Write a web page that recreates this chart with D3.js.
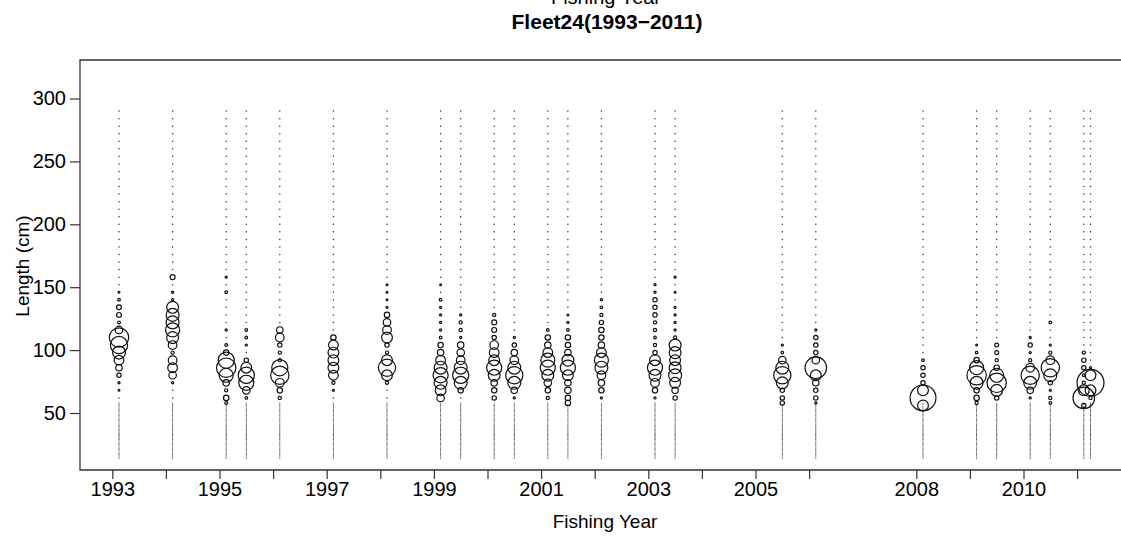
<!DOCTYPE html>
<html>
<head>
  <meta charset="utf-8">
  <title>Fleet24 length composition</title>
  <script src="https://d3js.org/d3.v7.min.js"></script>
  <style>
    body { margin: 0; background: #fff; }
    text { font-family: "Liberation Sans", Arial, sans-serif; fill: #000; }
  </style>
</head>
<body>
  <script>
    var width = 1121;
    var height = 540;

    // length bins (cm): coarse upper bins and fine lower bins
    var lengthBins = [290, 284, 278, 272, 266, 260, 254, 248, 242, 236, 230, 224, 218, 212, 206, 200,
      194, 188, 182, 176, 170, 164, 158, 152, 146, 140, 134, 128, 122, 116, 110, 104, 98, 92, 86, 80, 74, 68, 62];
    var smallBins = [58, 57, 56, 55, 54, 53, 52, 51, 50, 49, 48, 47, 46, 45, 44, 43, 42, 41, 40, 39, 38, 37,
      36, 35, 34, 33, 32, 31, 30, 29, 28, 27, 26, 25, 24, 23, 22, 21, 20, 19, 18, 17, 16, 15, 14];

    // sample times (fishing year + season)
    var sampleTimes = [1993.125, 1994.125, 1995.125, 1995.5, 1996.125, 1997.125, 1998.125, 1999.125, 1999.5,
      2000.125, 2000.5, 2001.125, 2001.5, 2002.125, 2003.125, 2003.5, 2005.5, 2006.125, 2008.125,
      2009.125, 2009.5, 2010.125, 2010.5, 2011.125, 2011.25];

    // non-zero proportions per sample: [length, value]
    var comps = [
      [[146,0.2],[140,0.9],[134,2.9],[128,2.9],[122,1.0],[116,7.2],[110,47.9],[104,37.9],[98,21.3],[92,12],[86,5.3],[80,2.4],[74,0.6],[68,0.3]],
      [[158,3.1],[146,0.6],[140,0.6],[134,17.9],[128,21.3],[122,21.3],[116,25],[110,17.9],[104,9.5],[98,1.3],[92,9.5],[86,12],[80,7.2],[74,0.6]],
      [[158,0.6],[146,0.9],[116,0.6],[104,1.0],[98,3.7],[92,33.3],[86,47.9],[80,25],[74,5.3],[68,1.3],[62,3.7],[58,1.0]],
      [[116,0.9],[110,0.9],[104,0.6],[92,2.4],[86,14.8],[80,33.3],[74,29],[68,7.2],[62,0.9]],
      [[116,5.3],[110,9.5],[104,2.4],[98,1.3],[92,1.3],[86,33.3],[80,42.8],[74,9.5],[68,3.7],[62,1.3]],
      [[110,3.7],[104,12],[98,14.8],[92,14.8],[86,14.8],[80,12],[74,1.3],[68,0.6]],
      [[152,0.4],[146,0.4],[140,0.4],[134,0.6],[128,3.7],[122,7.2],[116,9.5],[110,14.8],[104,2.4],[98,1.3],[92,14.8],[86,37.9],[80,14.8],[74,1.3]],
      [[152,0.4],[140,0.9],[134,0.6],[128,0.6],[122,0.6],[116,0.6],[110,0.9],[104,3.7],[98,5.3],[92,12],[86,21.3],[80,29],[74,21.3],[68,14.8],[62,7.2]],
      [[128,0.6],[122,1.3],[116,1.3],[110,0.6],[104,5.3],[98,7.2],[92,9.5],[86,21.3],[80,33.3],[74,21.3],[68,3.7]],
      [[128,1.3],[122,3.1],[116,3.1],[110,2.4],[104,9.5],[98,12],[92,14.8],[86,29],[80,17.9],[74,5.3],[68,3.7],[62,2.4]],
      [[110,0.6],[104,2.4],[98,5.3],[92,9.5],[86,21.3],[80,37.9],[74,21.3],[68,5.3],[62,0.6]],
      [[116,0.9],[110,3.7],[104,5.3],[98,12],[92,25],[86,29],[80,17.9],[74,7.2],[68,3.7],[62,1.3]],
      [[128,0.4],[122,0.6],[116,0.9],[110,3.7],[104,3.7],[98,5.3],[92,17.9],[86,29],[80,14.8],[74,5.3],[68,5.3],[62,3.7],[58,3.7]],
      [[140,0.6],[134,0.9],[128,1.3],[122,2.4],[116,3.7],[110,3.7],[104,5.3],[98,12],[92,25],[86,21.3],[80,9.5],[74,5.3],[68,3.7],[62,0.6]],
      [[152,0.6],[146,0.6],[140,2.4],[134,2.4],[128,2.4],[122,1.3],[116,1.3],[110,0.9],[104,1.3],[98,2.4],[92,14.8],[86,29],[80,17.9],[74,9.5],[68,3.7],[62,0.6]],
      [[158,0.6],[146,0.4],[134,0.6],[128,0.6],[122,0.6],[116,0.6],[110,1.3],[104,17.9],[98,17.9],[92,14.8],[86,17.9],[80,21.3],[74,14.8],[68,5.3],[62,2.4]],
      [[104,0.6],[98,0.9],[92,7.2],[86,21.3],[80,37.9],[74,17.9],[68,2.4],[62,2.4],[58,2.4]],
      [[116,0.6],[110,2.4],[104,2.4],[98,2.4],[92,7.2],[86,59.2],[80,14.8],[74,5.3],[68,2.4],[62,2.4],[58,0.6]],
      [[92,0.9],[86,2.4],[80,2.4],[74,2.4],[68,14.8],[62,85.2],[56,14.8]],
      [[104,0.4],[98,0.9],[92,3.7],[86,25],[80,47.9],[74,21.3],[68,3.7],[62,3.7],[58,1.3]],
      [[104,1.9],[98,1.9],[92,1.3],[86,3.7],[80,25],[74,47.9],[68,17.9],[62,2.4]],
      [[110,0.6],[104,2.4],[98,0.6],[92,1.3],[86,9.5],[80,42.8],[74,21.3],[68,5.3],[62,0.6]],
      [[122,0.9],[104,0.6],[98,1.3],[92,9.5],[86,42.8],[80,21.3],[74,2.4],[68,0.6],[62,1.3],[58,0.9]],
      [[98,1.3],[92,2.4],[86,2.4],[80,0.9],[74,1.3],[68,14.8],[62,59.2],[56,2.4]],
      [[86,0.6],[80,14.8],[74,92.5],[68,14.8],[62,1.3]]
    ];

    var tickYears = [1993, 1994, 1995, 1996, 1997, 1998, 1999, 2000, 2001, 2002, 2003, 2004, 2005, 2006,
      2008, 2009, 2010, 2011];
    var labelYears = [1993, 1995, 1997, 1999, 2001, 2003, 2005, 2008, 2010];
    var lengthTicks = [50, 100, 150, 200, 250, 300];

    var plotLeft = 80, plotTop = 60, plotBottom = 470, plotRight = 1130;

    var svg = d3.select("body").append("svg").attr("width", width).attr("height", height);

    var x = d3.scaleLinear().domain([1993, 2011]).range([112.3, 1077.1]);
    var y = d3.scaleLinear().domain([50, 300]).range([413, 98.5]);
    var r = d3.scaleSqrt().domain([0, 100]).range([0, 14]);

    // box (right side falls outside the picture)
    svg.append("path")
      .attr("d", "M" + plotRight + "," + plotTop + "H" + plotLeft + "V" + plotBottom + "H" + plotRight)
      .attr("fill", "none").attr("stroke", "#333").attr("stroke-width", 1.3);

    var xAxis = d3.axisBottom(x)
      .tickValues(tickYears)
      .tickSize(9)
      .tickPadding(3)
      .tickFormat(function (d) { return labelYears.indexOf(d) >= 0 ? d : ""; });

    var gX = svg.append("g").attr("transform", "translate(0," + plotBottom + ")").call(xAxis);
    gX.select(".domain").remove();
    gX.selectAll("line").attr("stroke", "#333").attr("stroke-width", 1.2);
    gX.selectAll("text").attr("font-size", 20).attr("fill", "#000")
      .style("font-family", "'Liberation Sans', Arial, sans-serif");

    var yAxis = d3.axisLeft(y).tickValues(lengthTicks).tickSize(10).tickPadding(4);
    var gY = svg.append("g").attr("transform", "translate(" + plotLeft + ",0)").call(yAxis);
    gY.select(".domain").remove();
    gY.selectAll("line").attr("stroke", "#333").attr("stroke-width", 1.2);
    gY.selectAll("text").attr("font-size", 20).attr("fill", "#000")
      .style("font-family", "'Liberation Sans', Arial, sans-serif");

    // build point records
    var allBins = lengthBins.concat(smallBins);
    var zeros = [], bubbles = [];
    sampleTimes.forEach(function (t, i) {
      var m = new Map(comps[i]);
      allBins.forEach(function (L) {
        if (m.has(L)) bubbles.push({ t: t, L: L, v: m.get(L) });
        else zeros.push({ t: t, L: L, fine: L < 60 });
      });
    });

    svg.append("g").selectAll("circle")
      .data(zeros)
      .enter()
      .append("circle")
      .attr("cx", function (d) { return x(d.t); })
      .attr("cy", function (d) { return y(d.L); })
      .attr("r", function (d) { return d.fine ? 0.55 : 0.75; })
      .attr("fill", function (d) { return d.fine ? "#444" : "#333"; });

    svg.append("g").selectAll("circle")
      .data(bubbles)
      .enter()
      .append("circle")
      .attr("cx", function (d) { return x(d.t); })
      .attr("cy", function (d) { return y(d.L); })
      .attr("r", function (d) { return Math.max(0.9, r(d.v)); })
      .attr("fill", "none")
      .attr("stroke", "#111")
      .attr("stroke-width", 1.2);

    // titles
    svg.append("text").attr("x", 606).attr("y", 4).attr("text-anchor", "middle")
      .attr("font-size", 20).text("Fishing Year");
    svg.append("text").attr("x", 607).attr("y", 29).attr("text-anchor", "middle")
      .attr("font-size", 21).attr("font-weight", "bold").text("Fleet24(1993\u22122011)");
    svg.append("text").attr("x", 605).attr("y", 528).attr("text-anchor", "middle")
      .attr("font-size", 19).text("Fishing Year");
    svg.append("text").attr("transform", "translate(29,266) rotate(-90)").attr("text-anchor", "middle")
      .attr("font-size", 19).text("Length (cm)");
  </script>
</body>
</html>
